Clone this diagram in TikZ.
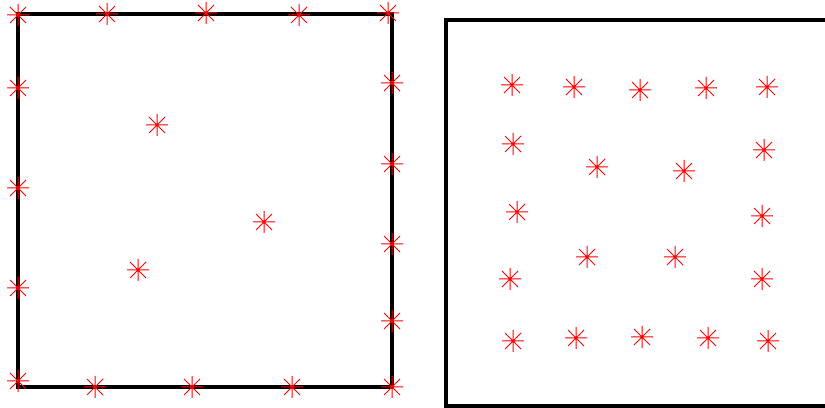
\documentclass[tikz,border=0pt]{standalone}
\usepackage{tikz}
\usepackage{xcolor}
\definecolor{markc}{HTML}{FF0000}

\begin{document}
\begin{tikzpicture}[x=0.02cm, y=-0.02cm]
  \tikzset{
    frame/.style={line width=0.08cm, black},
    asterisk/.pic={
      \draw[markc, line width=0.02cm] (-11,0) -- (11,0) (0,-11) -- (0,11)
        (-8,-8) -- (8,8) (-8,8) -- (8,-8);
    }
  }
  \useasboundingbox (0,0) rectangle (825,408);
  \clip (0,0) rectangle (825,408);

  % left square: points on the boundary and a few inside
  \draw[frame] (18,14) rectangle (392,387);
  \foreach \x/\y in {18/15,107/14,206/13,299/15,388/13,
                     18/88,18/188,18/288,18/381,
                     392/83,392/164,392/244,392/321,392/387,
                     95/387,192/387,292/387,
                     157/125,264/222,138/270}
    { \pic at (\x,\y) {asterisk}; }

  % right square: points on two rings, all inside
  \draw[frame] (446,20) rectangle (900,406);
  \foreach \x/\y in {512/85,574/87,640/90,706/88,767/87,
                     513/144,764/150,517/212,762/216,510/279,762/279,
                     513/341,576/338,642/337,708/338,768/341,
                     597/167,684/171,587/257,675/257}
    { \pic at (\x,\y) {asterisk}; }
\end{tikzpicture}
\end{document}
